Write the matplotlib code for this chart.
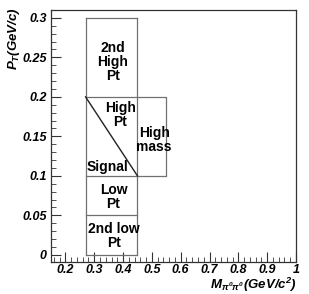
import matplotlib
matplotlib.use("Agg")
import matplotlib.pyplot as plt
from matplotlib.ticker import MultipleLocator

# region boundaries
col_x = [0.27, 0.45]
col_y_edges = [0.0, 0.05, 0.1, 0.2, 0.3]
mass_x = [0.45, 0.55]
mass_y = [0.1, 0.2]
diag_x = [0.27, 0.45]
diag_y = [0.2, 0.1]

labels = ["2nd\nHigh\nPt", "High\nPt", "High\nmass", "Signal", "Low\nPt", "2nd low\nPt"]
label_x = [0.365, 0.39, 0.508, 0.345, 0.367, 0.369]
label_y = [0.244, 0.1766, 0.146, 0.1108, 0.0728, 0.0234]

plt.rcParams["font.family"] = ["Liberation Sans", "DejaVu Sans"]
plt.rcParams["mathtext.fontset"] = "custom"
plt.rcParams["mathtext.it"] = "Liberation Sans:bold:italic"
plt.rcParams["mathtext.rm"] = "Liberation Sans:bold:italic"
plt.rcParams["mathtext.bf"] = "Liberation Sans:bold:italic"

fig = plt.figure(figsize=(3.09, 2.94), dpi=100)
ax = fig.add_axes([51 / 309, 32 / 294, 245 / 309, 252 / 294])

box_c = "#707070"
# column of pt boxes
ax.plot([col_x[0], col_x[0]], [col_y_edges[0], col_y_edges[-1]], color=box_c, lw=0.9)
ax.plot([col_x[1], col_x[1]], [col_y_edges[0], col_y_edges[-1]], color=box_c, lw=0.9)
for yv in col_y_edges:
    ax.plot(col_x, [yv, yv], color=box_c, lw=0.9)
# high mass box
ax.plot([mass_x[0], mass_x[1], mass_x[1], mass_x[0]],
        [mass_y[1], mass_y[1], mass_y[0], mass_y[0]], color=box_c, lw=0.9)
# diagonal
ax.plot(diag_x, diag_y, color="#222222", lw=1.0)

for t, x, y in zip(labels, label_x, label_y):
    ax.text(x, y, t, ha="center", va="center", fontsize=10, fontweight="bold",
            linespacing=1.0)

ax.set_xlim(0.15, 1.0)
ax.set_ylim(-0.009, 0.31)
ax.xaxis.set_minor_locator(MultipleLocator(0.02))
ax.yaxis.set_minor_locator(MultipleLocator(0.01))
ax.set_xticks([0.2, 0.3, 0.4, 0.5, 0.6, 0.7, 0.8, 0.9, 1.0])
ax.set_xticklabels(["0.2", "0.3", "0.4", "0.5", "0.6", "0.7", "0.8", "0.9", "1"])
ax.set_yticks([0, 0.05, 0.1, 0.15, 0.2, 0.25, 0.3])
ax.set_yticklabels(["0", "0.05", "0.1", "0.15", "0.2", "0.25", "0.3"])
ax.tick_params(which="both", direction="in", top=False, right=False, color="#333333")
ax.tick_params(which="major", length=7, width=0.8, labelsize=9, pad=3)
ax.tick_params(axis="x", which="major", pad=1.5)
ax.tick_params(which="minor", length=3.5, width=0.6)
for lab in ax.get_xticklabels() + ax.get_yticklabels():
    lab.set_fontweight("bold")
    lab.set_fontstyle("italic")
for s in ax.spines.values():
    s.set_color("#333333")
    s.set_linewidth(0.9)

fig.text(14 / 309, 1 - 7 / 294, r"$P_T$(GeV/c)", rotation=90,
         ha="center", va="top", fontsize=9.5, fontweight="bold", fontstyle="italic")
fig.text(297 / 309, 1 - 285 / 294, r"$M_{\pi^0\pi^0}$(GeV/c$^2$)",
         ha="right", va="center", fontsize=9.5, fontweight="bold", fontstyle="italic")

fig.savefig("out.png", dpi=100, facecolor="white")
